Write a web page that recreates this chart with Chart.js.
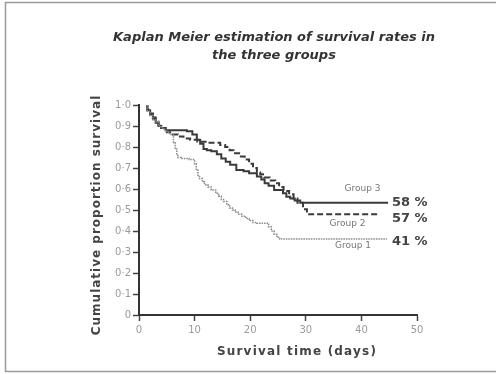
<!DOCTYPE html>
<html><head><meta charset="utf-8">
<script src="https://cdn.jsdelivr.net/npm/chart.js@4"></script>
<style>html,body{margin:0;padding:0;background:#fff;}#wrap{width:496px;height:374px;position:relative;}</style>
</head><body><div id="wrap"><canvas id="c" width="496" height="374"></canvas></div>
<script>
const titleLines = ["Kaplan Meier estimation of survival rates in", "the three groups"];
const xTitle = "Survival time (days)";
const yTitle = "Cumulative proportion survival";
const groupNames = ["Group 1", "Group 2", "Group 3"];
const finalLabels = ["41 %", "57 %", "58 %"];
const xTicks = [0, 10, 20, 30, 40, 50];
const yTicks = [0, 0.1, 0.2, 0.3, 0.4, 0.5, 0.6, 0.7, 0.8, 0.9, 1.0];

const group1 = [[1.5,1.0],[2,0.97],[2.5,0.95],[3,0.93],[3.5,0.92],[4,0.90],[4.5,0.89],[5,0.88],[5.5,0.87],[6.2,0.86],[6.5,0.82],[6.8,0.79],[7,0.76],[7.6,0.75],[9,0.745],[10,0.74],[10.3,0.72],[10.6,0.69],[10.9,0.66],[11.4,0.65],[11.8,0.635],[12.4,0.62],[13,0.61],[13.8,0.595],[14.3,0.58],[14.8,0.565],[15.2,0.55],[15.8,0.54],[16.3,0.525],[16.8,0.51],[17.3,0.50],[17.8,0.49],[18.5,0.48],[19.2,0.47],[19.8,0.46],[20.5,0.45],[21.2,0.44],[23.3,0.437],[23.8,0.42],[24.3,0.40],[24.8,0.385],[25.3,0.37],[25.8,0.362],[44.6,0.362]];
const group2 = [[1.5,1.0],[2,0.98],[2.5,0.96],[3,0.94],[3.5,0.92],[4,0.905],[5,0.89],[5.6,0.87],[7,0.86],[8,0.85],[9.2,0.84],[10.5,0.835],[12.2,0.825],[14.6,0.82],[15.5,0.81],[16.3,0.80],[17,0.785],[18,0.77],[19,0.755],[19.8,0.74],[20.5,0.72],[21.2,0.70],[21.8,0.68],[22.5,0.67],[23.5,0.655],[24.5,0.64],[25.2,0.627],[26,0.61],[27,0.59],[27.8,0.575],[28.5,0.555],[29.5,0.535],[30.2,0.503],[33.2,0.48],[43.3,0.48]];
const group3 = [[1.5,1.0],[2,0.975],[2.5,0.955],[3,0.935],[3.5,0.915],[4,0.90],[4.8,0.89],[8.6,0.88],[9.6,0.875],[10.4,0.86],[11,0.835],[11.6,0.815],[12.2,0.79],[13,0.785],[14,0.78],[14.8,0.765],[15.6,0.745],[16.4,0.73],[17.5,0.715],[18.8,0.69],[19.8,0.685],[21.2,0.675],[22,0.66],[22.6,0.645],[23.3,0.627],[24.3,0.615],[25.9,0.595],[26.5,0.58],[27.2,0.563],[28,0.555],[29,0.545],[30,0.535],[44.8,0.535]];

const toPts = a => a.map(p => ({x: p[0], y: p[1]}));
const fmt = v => v === 0 ? "0" : v.toFixed(1).replace(".", "\u00B7");

const deco = {
  id: 'deco',
  beforeDraw(chart) {
    const ctx = chart.ctx;
    ctx.save();
    ctx.fillStyle = '#fff';
    ctx.fillRect(0, 0, chart.width, chart.height);
    ctx.strokeStyle = '#9a9a9a';
    ctx.lineWidth = 1.5;
    ctx.strokeRect(5.5, 2.5, 496, 369);
    ctx.restore();
  },
  afterDraw(chart) {
    const ctx = chart.ctx;
    const xs = chart.scales.x, ys = chart.scales.y;
    ctx.save();
    ctx.fillStyle = '#333';
    ctx.textAlign = 'center';
    ctx.textBaseline = 'middle';
    ctx.font = 'italic bold 13px "DejaVu Sans"';
    ctx.fillText(titleLines[0], 274, 38);
    ctx.fillText(titleLines[1], 274, 56);
    ctx.fillStyle = '#444';
    ctx.font = 'bold 12px "DejaVu Sans"';
    ctx.letterSpacing = '1.2px';
    ctx.fillText(xTitle, 297, 352);
    ctx.save();
    ctx.translate(97, 215);
    ctx.rotate(-Math.PI / 2);
    ctx.letterSpacing = '1px';
    ctx.fillText(yTitle, 0, 0);
    ctx.restore();
    ctx.letterSpacing = '0px';
    ctx.font = '9px "DejaVu Sans"';
    ctx.fillStyle = '#777';
    ctx.fillText(groupNames[2], xs.getPixelForValue(40.2), ys.getPixelForValue(0.535) - 14);
    ctx.fillText(groupNames[1], xs.getPixelForValue(37.5), ys.getPixelForValue(0.48) + 9);
    ctx.fillText(groupNames[0], xs.getPixelForValue(38.5), ys.getPixelForValue(0.362) + 7);
    ctx.font = 'bold 13px "DejaVu Sans"';
    ctx.fillStyle = '#444';
    ctx.textAlign = 'left';
    const labY = [ys.getPixelForValue(0.362) + 3, ys.getPixelForValue(0.48) + 4, ys.getPixelForValue(0.535)];
    for (let i = 0; i < 3; i++) {
      ctx.fillText(finalLabels[i], 392, labY[i]);
    }
    ctx.restore();
  }
};

new Chart(document.getElementById('c'), {
  type: 'scatter',
  data: {
    datasets: [
      {label: groupNames[0], data: toPts(group1), showLine: true, stepped: 'after', borderColor: '#8a8a8a', borderWidth: 1.5, borderDash: [1.5, 1], pointRadius: 0, clip: false},
      {label: groupNames[1], data: toPts(group2), showLine: true, stepped: 'after', borderColor: '#3a3a3a', borderWidth: 2, borderDash: [6, 3], pointRadius: 0, clip: false},
      {label: groupNames[2], data: toPts(group3), showLine: true, stepped: 'after', borderColor: '#3a3a3a', borderWidth: 2, pointRadius: 0, clip: false}
    ]
  },
  options: {
    responsive: false,
    animation: false,
    events: [],
    layout: {padding: {left: 0, top: 105, right: 79, bottom: 0}},
    plugins: {legend: {display: false}, title: {display: false}, tooltip: {enabled: false}},
    scales: {
      x: {
        type: 'linear', min: 0, max: 50,
        afterFit: s => { s.height = 59; },
        afterBuildTicks: s => { s.ticks = xTicks.map(v => ({value: v})); },
        grid: {drawOnChartArea: false, drawTicks: true, tickLength: 6, tickColor: '#444', tickWidth: 1.5},
        border: {display: true, color: '#333', width: 2},
        ticks: {color: '#9a9a9a', font: {family: 'DejaVu Sans', size: 10}, padding: 3, maxRotation: 0}
      },
      y: {
        type: 'linear', min: 0, max: 1,
        afterFit: s => { s.width = 139; },
        afterBuildTicks: s => { s.ticks = yTicks.map(v => ({value: v})); },
        grid: {drawOnChartArea: false, drawTicks: true, tickLength: 6, tickColor: '#444', tickWidth: 1.5},
        border: {display: true, color: '#333', width: 2},
        ticks: {color: '#9a9a9a', font: {family: 'DejaVu Sans', size: 10}, padding: 2, callback: v => fmt(v)}
      }
    }
  },
  plugins: [deco]
});
</script></body></html>
